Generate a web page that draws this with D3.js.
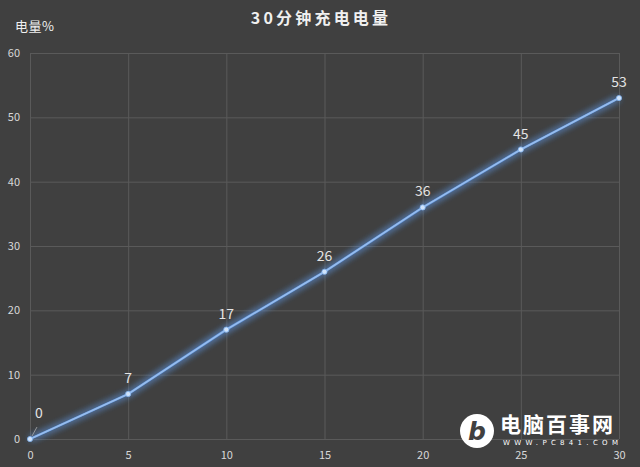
<!DOCTYPE html>
<html><head><meta charset="utf-8">
<script src="https://cdn.jsdelivr.net/npm/d3@7"></script>
<style>html,body{margin:0;padding:0;background:#404040;}</style>
</head><body>
<svg id="c" width="640" height="467"></svg>
<script>
const minutes = [0, 5, 10, 15, 20, 25, 30];
const charge = [0, 7, 17, 26, 36, 45, 53];
const xTicks = [0, 5, 10, 15, 20, 25, 30];
const yTicks = [0, 10, 20, 30, 40, 50, 60];
const title = "30分钟充电电量";
const yTitle = "电量%";

const svg = d3.select("#c");
const W = 640, H = 467;
const m = {l: 30, r: 21, t: 53, b: 28};
svg.append("rect").attr("width", W).attr("height", H).attr("fill", "#404040");

const x = d3.scaleLinear().domain([0, 30]).range([m.l, W - m.r]);
const y = d3.scaleLinear().domain([0, 60]).range([H - m.b, m.t]);

const defs = svg.append("defs");
const f = defs.append("filter").attr("id", "glow").attr("x", "-20%").attr("y", "-20%").attr("width", "140%").attr("height", "140%");
f.append("feGaussianBlur").attr("in", "SourceGraphic").attr("stdDeviation", 3.5).attr("result", "b");
const mg = f.append("feMerge");
mg.append("feMergeNode").attr("in", "b");
mg.append("feMergeNode").attr("in", "b");
mg.append("feMergeNode").attr("in", "SourceGraphic");

const font = "'Noto Sans CJK SC','Noto Sans',sans-serif";

// grid
const gx = svg.append("g").attr("transform", `translate(0,${H - m.b})`)
  .call(d3.axisBottom(x).tickValues(xTicks).tickSize(-(H - m.b - m.t)).tickPadding(12));
const gy = svg.append("g").attr("transform", `translate(${m.l},0)`)
  .call(d3.axisLeft(y).tickValues(yTicks).tickSize(-(W - m.l - m.r)).tickPadding(8));
[gx, gy].forEach(g => {
  g.select(".domain").remove();
  g.selectAll(".tick line").attr("stroke", "#5a5a5a").attr("stroke-width", 1);
  g.selectAll(".tick text").attr("fill", "#d8d8d8").attr("font-size", 11).attr("font-family", font);
});
gy.selectAll(".tick text").attr("dx", -2);

// line
const pts = minutes.map((d, i) => [d, charge[i]]);
const line = d3.line().x(d => x(d[0])).y(d => y(d[1]));
svg.append("path").datum(pts).attr("d", line).attr("fill", "none")
  .attr("stroke", "#5f95e0").attr("stroke-width", 2.4).attr("filter", "url(#glow)");
svg.append("path").datum(pts).attr("d", line).attr("fill", "none")
  .attr("stroke", "#98bdec").attr("stroke-width", 1.6);
svg.selectAll("circle.pt").data(pts).enter().append("circle").attr("class", "pt")
  .attr("cx", d => x(d[0])).attr("cy", d => y(d[1])).attr("r", 2.6)
  .attr("fill", "#cfe3fb").attr("stroke", "#7fb0ec").attr("stroke-width", 0.8);

// labels
svg.selectAll("text.lbl").data(pts).enter().append("text").attr("class", "lbl")
  .attr("x", (d, i) => i === 0 ? x(d[0]) + 9 : x(d[0]))
  .attr("y", (d, i) => i === 0 ? y(d[1]) - 21 : y(d[1]) - 11)
  .attr("text-anchor", "middle").attr("fill", "#e4e4e4")
  .attr("font-size", 14).attr("font-family", font).text(d => d[1]);
svg.append("line").attr("x1", x(0) + 2).attr("y1", y(0) - 3).attr("x2", x(0) + 7).attr("y2", y(0) - 12)
  .attr("stroke", "#aaaaaa").attr("stroke-width", 0.8);

// titles
svg.append("text").attr("x", 321).attr("y", 24).attr("text-anchor", "middle")
  .attr("fill", "#f0f0f0").attr("font-size", 16).attr("letter-spacing", 3.2).attr("font-weight", "bold").attr("font-family", font).text(title);
svg.append("text").attr("x", 15).attr("y", 31).attr("fill", "#f0f0f0")
  .attr("font-size", 13).attr("letter-spacing", 0.5).attr("font-family", font).text(yTitle);

// watermark
const wm = svg.append("g");
wm.append("circle").attr("cx", 477).attr("cy", 431).attr("r", 17).attr("fill", "#ffffff");
wm.append("text").attr("x", 477).attr("y", 440).attr("text-anchor", "middle").attr("fill", "#404040")
  .attr("font-size", 25).attr("font-weight", "bold").attr("font-style", "italic").attr("font-family", "'DejaVu Sans',sans-serif").text("b");
wm.append("text").attr("x", 500).attr("y", 432).attr("fill", "#ffffff")
  .attr("font-size", 21).attr("letter-spacing", 2).attr("font-weight", "bold").attr("font-family", font).text("电脑百事网");
wm.append("text").attr("x", 503).attr("y", 445).attr("fill", "#ffffff")
  .attr("font-size", 7).attr("letter-spacing", 4.3).attr("font-family", "'DejaVu Sans',sans-serif").text("WWW.PC841.COM");
</script>
</body></html>
